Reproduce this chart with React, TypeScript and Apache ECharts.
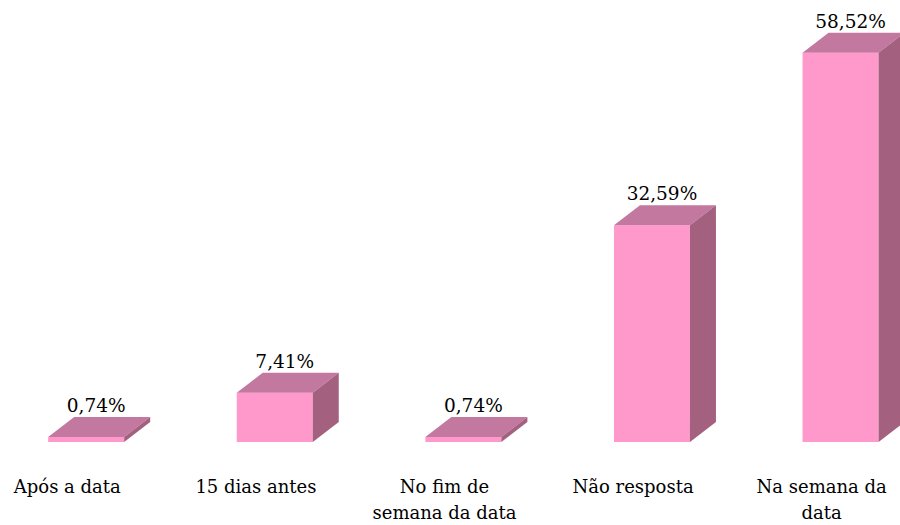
import React, { useEffect, useRef } from "react";
import * as echarts from "echarts";

const categories = ["Após a data", "15 dias antes", "No fim de\nsemana da data", "Não resposta", "Na semana da\ndata"];
const values = [0.74, 7.41, 0.74, 32.59, 58.52];

const FRONT = "#FF99CC";
const TOP = "#C2789F";
const SIDE = "#A3607F";
const DX = 26;
const DY = 20;
const FONT = "DejaVu Serif";

export default function App() {
  const ref = useRef<HTMLDivElement>(null);
  useEffect(() => {
    if (!ref.current) return;
    const chart = echarts.init(ref.current, undefined, { renderer: "svg" });
    chart.setOption({
      animation: false,
      backgroundColor: "#ffffff",
      textStyle: { fontFamily: FONT },
      grid: { left: 0, right: 0, top: 43, bottom: 81 },
      xAxis: {
        type: "category",
        data: categories,
        axisLine: { show: false },
        axisTick: { show: false },
        axisLabel: {
          interval: 0,
          margin: 31,
          fontFamily: FONT,
          fontSize: 18,
          lineHeight: 26,
          color: "#000",
          align: "center",
        },
      },
      yAxis: {
        type: "value",
        min: 0,
        max: 60,
        show: false,
        splitLine: { show: false },
      },
      series: [
        {
          type: "custom",
          clip: false,
          data: values.map((v, i) => [i, v]),
          renderItem: (params: any, api: any) => {
            const idx = api.value(0);
            const val = api.value(1);
            const base = api.coord([idx, 0]);
            const top = api.coord([idx, val]);
            const band = api.size([1, 0])[0];
            const w = band * 0.403;
            const off = band * 0.1;
            const x0 = base[0] + off - w / 2;
            const x1 = x0 + w;
            const yb = base[1];
            const yt = top[1];
            const label = val.toFixed(2).replace(".", ",") + "%";
            return {
              type: "group",
              children: [
                {
                  type: "rect",
                  shape: { x: x0, y: yt, width: w, height: yb - yt },
                  style: { fill: FRONT },
                },
                {
                  type: "polygon",
                  shape: { points: [[x0, yt], [x1, yt], [x1 + DX, yt - DY], [x0 + DX, yt - DY]] },
                  style: { fill: TOP },
                },
                {
                  type: "polygon",
                  shape: { points: [[x1, yb], [x1, yt], [x1 + DX, yt - DY], [x1 + DX, yb - DY]] },
                  style: { fill: SIDE },
                },
                {
                  type: "text",
                  style: {
                    text: label,
                    x: x0 + w / 2 + 10,
                    y: yt - DY - 2,
                    align: "center",
                    verticalAlign: "bottom",
                    fontFamily: FONT,
                    fontSize: 18.5,
                    fill: "#000",
                  },
                },
              ],
            };
          },
        },
      ],
    });
    return () => chart.dispose();
  }, []);
  return (
    <div
      ref={ref}
      style={{ position: "fixed", left: -27.25, top: 0, width: 942.5, height: 525 }}
    />
  );
}
